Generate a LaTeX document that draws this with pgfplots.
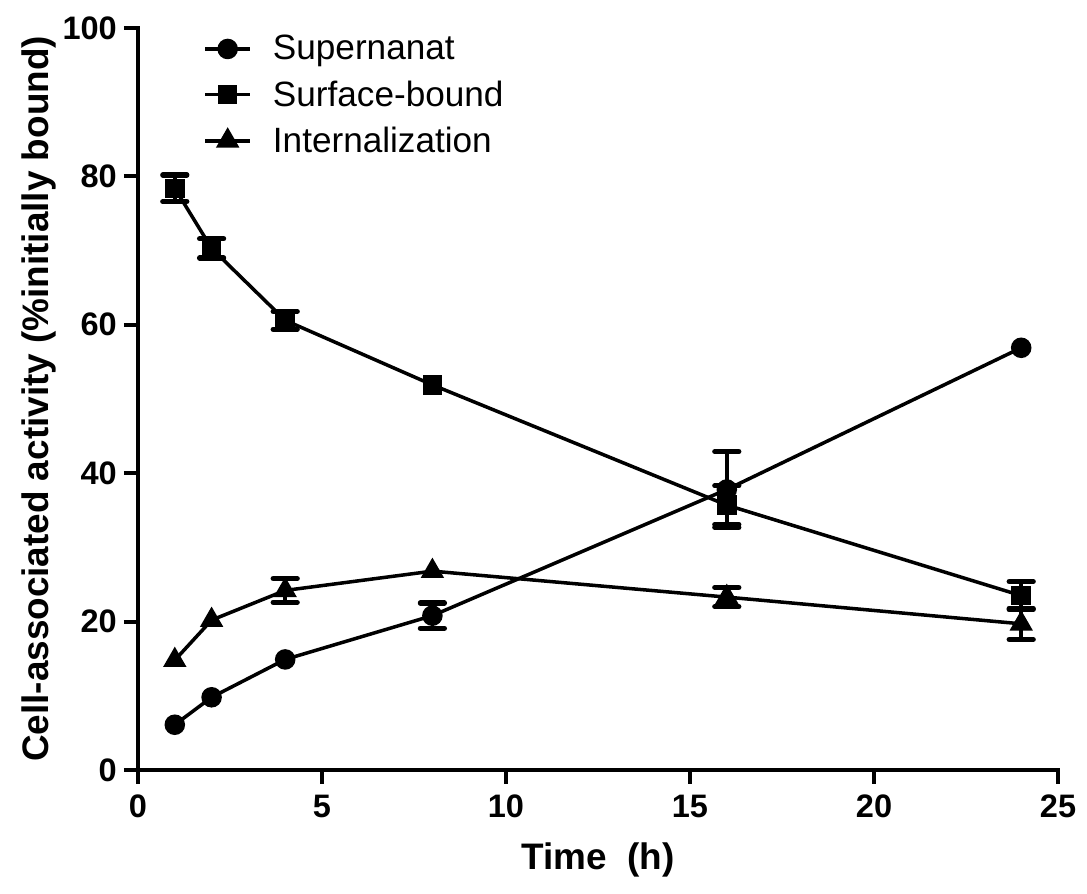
\documentclass[border=0pt]{standalone}
\usepackage{fontspec}
\setmainfont{Liberation Sans}
\usepackage{pgfplots}
\pgfplotsset{compat=1.18}

% mean values
\pgfplotstableread{
x  y
1  6.1
2  9.8
4  14.9
8  20.8
16 37.8
24 56.9
}\supernanat

\pgfplotstableread{
x  y
1  78.4
2  70.3
4  60.6
8  51.9
16 35.7
24 23.5
}\surface

\pgfplotstableread{
x  y
1  14.8
2  20.2
4  24.2
8  26.8
16 23.3
24 19.7
}\internal

% points whose error bars are larger than the markers
\pgfplotstableread{
x  y     ey
8  20.8  1.7
16 37.8  5.1
}\supernanatErr

\pgfplotstableread{
x  y     ey
1  78.4  1.8
2  70.3  1.3
4  60.6  1.2
16 35.7  2.6
24 23.5  1.9
}\surfaceErr

\pgfplotstableread{
x  y     ey
4  24.2  1.6
16 23.3  1.3
24 19.7  2.1
}\internalErr

\begin{document}
\begin{tikzpicture}[x=1cm,y=1cm]
\begin{axis}[
    scale only axis,
    width=18.4cm, height=14.84cm,
    xmin=0, xmax=25, ymin=0, ymax=100,
    xtick={0,5,...,25}, ytick={0,20,...,100},
    axis x line*=bottom, axis y line*=left,
    axis line style={line width=2.2pt, line cap=rect},
    tick align=outside,
    major tick length=0.28cm,
    tick style={line width=2.2pt, black},
    /pgf/number format/assume math mode=true,
    ticklabel style={font=\bfseries\fontsize{18.5}{22}\selectfont},
    xticklabel style={yshift=-0.1cm},
    yticklabel style={xshift=-0.02cm},
    xlabel={Time\ \ (h)},
    ylabel={Cell-associated activity (\%initially bound)},
    label style={font=\bfseries\fontsize{21}{25}\selectfont},
    xlabel style={yshift=-0.25cm},
    ylabel style={yshift=-0.12cm},
    clip=false,
    every axis plot/.append style={black, line width=2pt},
    error bars/error bar style={line width=2pt},
    error bars/error mark options={rotate=90, mark size=0.24cm, line width=3pt, line cap=round},
    legend cell align=left,
    legend style={at={(rel axis cs:0.065,1.0)}, anchor=north west, draw=none, fill=none,
        font=\fontsize{20}{24}\selectfont, row sep=0.22cm},
    legend image code/.code={%
        \draw[mark repeat=2, mark phase=2, #1]
            plot coordinates {(0cm,0cm) (0.45cm,0cm) (0.9cm,0cm)};
        \path (1.25cm,0cm);},
]
\addplot[mark=*, mark size=0.17cm] table {\supernanat};
\addlegendentry{Supernanat}
\addplot[mark=square*, mark size=0.16cm] table {\surface};
\addlegendentry{Surface-bound}
\addplot[mark=triangle*, mark size=0.2cm] table {\internal};
\addlegendentry{Internalization}

\addplot[forget plot, draw=none, mark=none, error bars/.cd, y dir=both, y explicit]
    table[x=x, y=y, y error=ey] {\supernanatErr};
\addplot[forget plot, draw=none, mark=none, error bars/.cd, y dir=both, y explicit]
    table[x=x, y=y, y error=ey] {\surfaceErr};
\addplot[forget plot, draw=none, mark=none, error bars/.cd, y dir=both, y explicit]
    table[x=x, y=y, y error=ey] {\internalErr};
\end{axis}
\path (-2.76,-2.48) (18.98,15.4);
\end{tikzpicture}
\end{document}
